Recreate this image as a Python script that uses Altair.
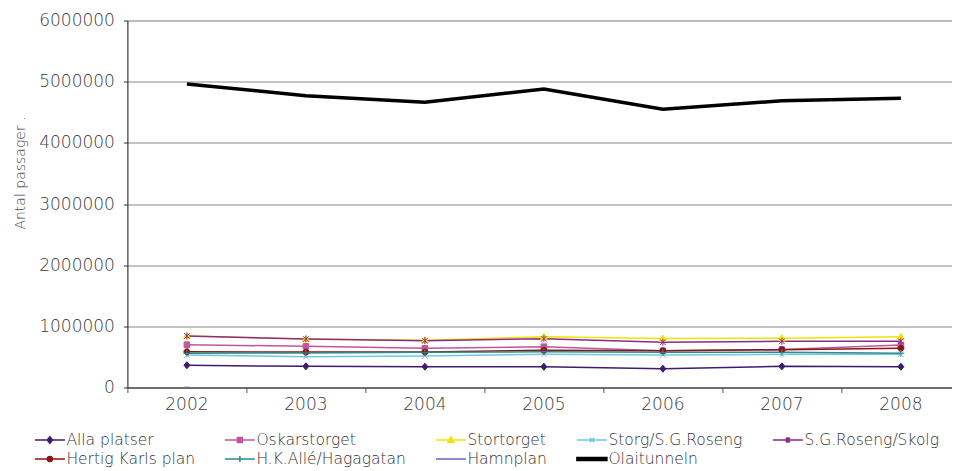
import altair as alt
import pandas as pd

years = ["2002", "2003", "2004", "2005", "2006", "2007", "2008"]

series_names = ["Alla platser", "Oskarstorget", "Stortorget", "Storg/S.G.Roseng",
                "S.G.Roseng/Skolg", "Hertig Karls plan", "H.K.Allé/Hagagatan",
                "Hamnplan", "Olaitunneln"]
series_colors = ["#3d1c6e", "#c2559d", "#f0e400", "#6ccadf", "#8c2a8c",
                 "#8b1414", "#2e8b8b", "#6a62c8", "#000000"]
marker_kinds = ["diamond", "square", "triangle", "x", "asterisk", "circle",
                "plus", "dash", "none"]

alla_platser = [363000, 346000, 340000, 340000, 307000, 346000, 340000]
oskarstorget = [700000, 673000, 641000, 667000, 600000, 620000, 695000]
stortorget = [842000, 793000, 772000, 830000, 800000, 804000, 830000]
storg_sgroseng = [531000, 504000, 515000, 543000, 531000, 543000, 543000]
sgroseng_skolg = [842000, 793000, 765000, 798000, 739000, 755000, 755000]
hertig_karls = [585000, 580000, 580000, 608000, 600000, 618000, 641000]
hk_alle = [559000, 565000, 575000, 585000, 575000, 575000, 559000]
hamnplan = [6000, None, None, None, None, None, None]
olaitunneln = [4962000, 4770000, 4662000, 4880000, 4548000, 4689000, 4728000]

series_values = [alla_platser, oskarstorget, stortorget, storg_sgroseng,
                 sgroseng_skolg, hertig_karls, hk_alle, hamnplan, olaitunneln]

# marker paths in the unit square [-1, 1]
marker_paths = [
    "M0,-1L0.85,0L0,1L-0.85,0Z",
    "M-0.8,-0.8H0.8V0.8H-0.8Z",
    "M0,-1L0.95,0.75H-0.95Z",
    "M-0.8,-0.8L0.8,0.8M-0.8,0.8L0.8,-0.8",
    "M-0.8,-0.8L0.8,0.8M-0.8,0.8L0.8,-0.8M0,-1V1",
    "M-0.85,0A0.85,0.85,0,1,0,0.85,0A0.85,0.85,0,1,0,-0.85,0Z",
    "M-1,0H1M0,-1V1",
    "M-0.7,0H0.7",
    "M-0.01,0H0.01",
]

# legend symbols: line + small marker (unit = 9.5 px, line 30 px)
legend_paths = [
    "M-1.58,0H1.58M0,-0.34L0.28,0L0,0.34L-0.28,0Z",
    "M-1.58,0H1.58M-0.26,-0.26H0.26V0.26H-0.26Z",
    "M-1.58,0H1.58M0,-0.34L0.32,0.23H-0.32Z",
    "M-1.58,0H1.58M-0.23,-0.23L0.23,0.23M-0.23,0.23L0.23,-0.23",
    "M-1.58,0H1.58M-0.23,-0.23L0.23,0.23M-0.23,0.23L0.23,-0.23M0,-0.32V0.32",
    "M-1.58,0H1.58M-0.26,0A0.26,0.26,0,1,0,0.26,0A0.26,0.26,0,1,0,-0.26,0Z",
    "M-1.58,0H1.58M0,-0.32V0.32",
    "M-1.58,0H1.58M-0.2,0H0.2",
    "M-1.58,-0.16H1.58V0.16H-1.58Z",
]

rows = []
for name, kind, vals in zip(series_names, marker_kinds, series_values):
    for yr, v in zip(years, vals):
        if v is not None:
            rows.append({"year": yr, "series": name, "marker": kind, "value": v})
df = pd.DataFrame(rows)


def js_list(items):
    return "[" + ",".join("'" + str(i) + "'" for i in items) + "]"


shape_expr = f"{js_list(legend_paths)}[indexof({js_list(series_names)}, datum.value)]"

FONT = "DejaVu Sans"
WEIGHT = 200

x_enc = alt.X(
    "year:O",
    scale=alt.Scale(type="band", paddingInner=0, paddingOuter=0),
    axis=alt.Axis(
        title=None, bandPosition=0, labelAngle=0,
        labelFont=FONT, labelFontSize=17, labelFontWeight=WEIGHT, labelColor="#3a3a3a",
        labelPadding=4, tickSize=5, tickColor="#555555", tickWidth=1,
        domainColor="#555555", domainWidth=1.5, grid=False,
    ),
)
y_enc = alt.Y(
    "value:Q",
    scale=alt.Scale(domain=[0, 6000000], nice=False),
    axis=alt.Axis(
        title="Antal passager   .", values=[0, 1000000, 2000000, 3000000, 4000000, 5000000, 6000000],
        format="d", labelFont=FONT, labelFontSize=17, labelFontWeight=WEIGHT, labelColor="#3a3a3a",
        labelPadding=9, tickSize=4, tickColor="#333333",
        domainColor="#222222", domainWidth=1,
        grid=True, gridColor="#8a8a8a", gridWidth=1,
        titleFont=FONT, titleFontSize=14, titleFontWeight=WEIGHT, titleColor="#444444",
        titleAngle=270, titleX=-107, titleY=152, titleAlign="center", titleBaseline="middle",
    ),
)

legend = alt.Legend(
    title=None, orient="none", legendX=-88, legendY=409, columns=5,
    direction="horizontal",
    symbolSize=361, symbolType={"expr": shape_expr},
    symbolStrokeWidth=1.5, symbolOpacity=1,
    symbolOffset=0, labelOffset=6,
    labelFont=FONT, labelFontSize=15.5, labelFontWeight=WEIGHT, labelColor="#333333",
    columnPadding=26, rowPadding=0, padding=0,
)

color_scale = alt.Scale(domain=series_names, range=series_colors)
stroke_enc = alt.Stroke("series:N", scale=color_scale, legend=legend, sort=series_names)

thin_lines = alt.Chart(df).transform_filter(
    alt.datum.series != "Olaitunneln"
).mark_line(opacity=1, strokeWidth=1.5).encode(
    x=x_enc, y=y_enc, stroke=stroke_enc, detail="series:N",
)

thick_line = alt.Chart(df).transform_filter(
    alt.datum.series == "Olaitunneln"
).mark_line(opacity=1, strokeWidth=3.5).encode(
    x=x_enc, y=y_enc, stroke=stroke_enc,
)

points = alt.Chart(df).transform_filter(
    alt.datum.series != "Olaitunneln"
).mark_point(opacity=1, strokeWidth=1, size=49).encode(
    x=x_enc,
    y=y_enc,
    stroke=stroke_enc,
    fill=alt.Fill("series:N", scale=color_scale, legend=legend, sort=series_names),
    shape=alt.Shape("marker:N", scale=alt.Scale(domain=marker_kinds, range=marker_paths),
                    legend=None),
)

chart = alt.layer(thin_lines, thick_line, points).properties(
    width=833, height=367,
    autosize=alt.AutoSizeParams(type="none"),
    padding={"left": 119.4, "top": 12.5, "right": -8.4, "bottom": 84},
).configure_view(stroke=None).configure(background="white")

chart.save("out.html", embed_options={"renderer": "svg", "actions": False})
